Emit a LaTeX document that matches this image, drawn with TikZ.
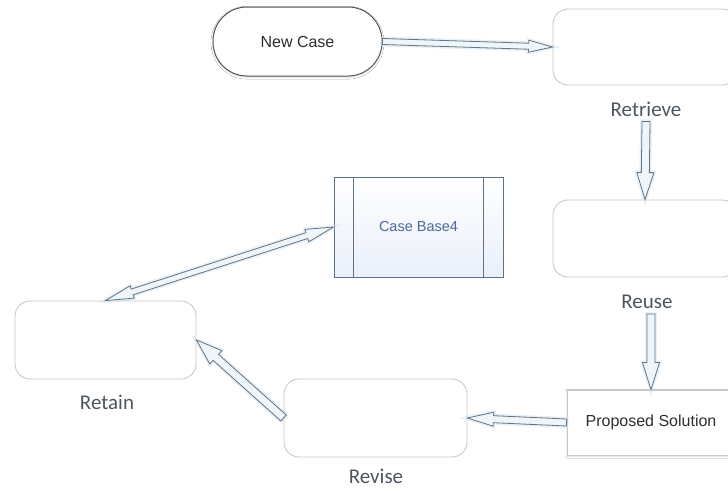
\documentclass[tikz,border=0pt]{standalone}
\usepackage{fontspec}
\setmainfont{Carlito}
\newfontfamily\arialf{Liberation Sans}
\usetikzlibrary{calc,shadows.blur}
\definecolor{boxgray}{HTML}{C9C9C9}
\definecolor{lblgray}{HTML}{4B5660}
\definecolor{arrowline}{HTML}{66747E}
\definecolor{arrowfill}{HTML}{EEF5FB}
\definecolor{glowblue}{HTML}{CFE3F3}
\definecolor{cbline}{HTML}{5C7289}
\definecolor{cbtext}{HTML}{4A6A9A}
\definecolor{cbfill}{HTML}{EAEFF9}
\definecolor{stadline}{HTML}{555555}
\definecolor{textdark}{HTML}{2E2E2E}

% hollow single-headed arrow: from, to, half shaft, half head, head length
\newcommand{\hollowarrow}[5]{%
  \coordinate (ha-s) at (#1);
  \coordinate (ha-e) at (#2);
  \coordinate (ha-h) at ($(ha-e)!#5!(ha-s)$);
  \draw[hollow]
    ($(ha-s)!#3!90:(ha-e)$) -- ($(ha-h)!#3!-90:(ha-s)$) -- ($(ha-h)!#4!-90:(ha-s)$)
    -- (ha-e)
    -- ($(ha-h)!#4!90:(ha-s)$) -- ($(ha-h)!#3!90:(ha-s)$) -- ($(ha-s)!#3!-90:(ha-e)$) -- cycle;}
% hollow double-headed arrow
\newcommand{\hollowdarrow}[5]{%
  \coordinate (hd-s) at (#1);
  \coordinate (hd-e) at (#2);
  \coordinate (hd-h) at ($(hd-e)!#5!(hd-s)$);
  \coordinate (hd-g) at ($(hd-s)!#5!(hd-e)$);
  \draw[hollow]
    (hd-s) -- ($(hd-g)!#4!90:(hd-e)$) -- ($(hd-g)!#3!90:(hd-e)$)
    -- ($(hd-h)!#3!-90:(hd-s)$) -- ($(hd-h)!#4!-90:(hd-s)$)
    -- (hd-e)
    -- ($(hd-h)!#4!90:(hd-s)$) -- ($(hd-h)!#3!90:(hd-s)$)
    -- ($(hd-g)!#3!-90:(hd-e)$) -- ($(hd-g)!#4!-90:(hd-e)$) -- cycle;}

\begin{document}
\begin{tikzpicture}[x=1pt,y=-1pt,
  roundbox/.style={draw=boxgray, line width=0.9pt, rounded corners=15pt, fill=white,
    inner sep=0pt},
  lbl/.style={text=lblgray, font=\fontsize{21}{24}\selectfont, inner sep=0pt},
  hollow/.style={draw=arrowline, line width=0.8pt, fill=arrowfill, line join=miter,
    preaction={draw=glowblue, line width=4pt, opacity=0.5}},
  softshadow/.style={blur shadow={shadow xshift=0pt, shadow yshift=-1.2pt,
    shadow blur steps=4, shadow opacity=15}},
]
\path[use as bounding box, clip] (0,0) rectangle (728,490);
\fill[white] (0,0) rectangle (728,490);

% nodes
\node[draw=stadline, line width=1pt, rounded corners=34pt, fill=white, softshadow,
  minimum width=169pt, minimum height=69pt, inner sep=0pt,
  font=\arialf\fontsize{16}{18}\selectfont, text=textdark] (newcase) at (297.5,41.5) {New Case};
\node[roundbox, minimum width=184pt, minimum height=76pt] (retrieve) at (645,47) {};
\node[roundbox, minimum width=184pt, minimum height=77pt] (reuse) at (645,238.5) {};
\node[draw=boxgray, line width=0.9pt, fill=white, softshadow,
  minimum width=168pt, minimum height=65pt, inner sep=0pt,
  font=\arialf\fontsize{16}{18}\selectfont, text=textdark] (proposed) at (651,422.5) {Proposed Solution};
\node[roundbox, minimum width=183pt, minimum height=78pt] (revise) at (375.5,418) {};
\node[roundbox, minimum width=181pt, minimum height=78pt] (retain) at (105.5,340) {};
\node[draw=cbline, line width=1pt, top color=white, bottom color=cbfill,
  minimum width=169pt, minimum height=100pt, inner sep=0pt,
  font=\arialf\fontsize{14.5}{17}\selectfont, text=cbtext] (casebase) at (418.5,227) {Case Base4};
\draw[cbline, line width=1pt] ([xshift=20pt]casebase.north west) -- ([xshift=20pt]casebase.south west);
\draw[cbline, line width=1pt] ([xshift=-20pt]casebase.north east) -- ([xshift=-20pt]casebase.south east);

% labels
\node[lbl] (retrieveLbl) at (646,109) {Retrieve};
\node[lbl] (reuseLbl) at (647,302) {Reuse};
\node[lbl] (retainLbl) at (107,402) {Retain};
\node[lbl] (reviseLbl) at (376,476) {Revise};

% connectors
\hollowarrow{newcase.east}{retrieve.west}{3pt}{6pt}{24pt}
\hollowarrow{$(retrieveLbl.south)+(0,5)$}{reuse.north}{4pt}{8.5pt}{27pt}
\hollowarrow{$(reuseLbl.south -| proposed.north)+(0,5)$}{proposed.north}{4pt}{8.5pt}{27pt}
\hollowarrow{proposed.west}{revise.east}{3.5pt}{7pt}{26pt}
\hollowarrow{revise.west}{retain.east}{4pt}{9pt}{26pt}
\hollowdarrow{retain.north}{casebase.west}{3pt}{6.5pt}{28pt}
\end{tikzpicture}
\end{document}
